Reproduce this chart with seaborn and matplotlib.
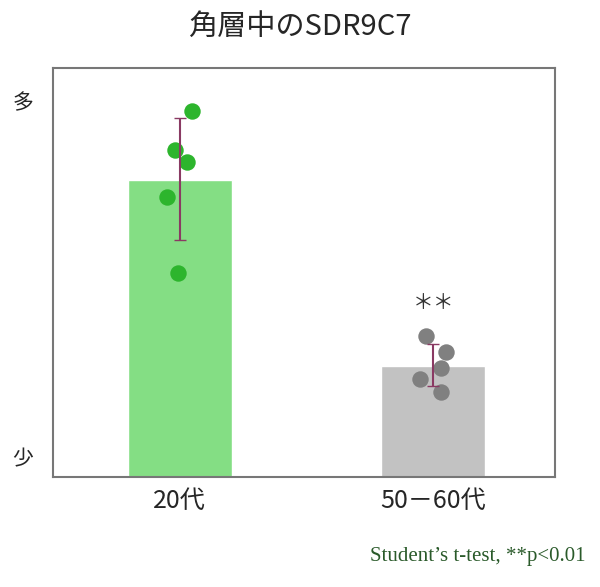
import matplotlib
matplotlib.use("Agg")
import matplotlib.pyplot as plt
import seaborn as sns
import pandas as pd
import numpy as np

sns.set_theme(style="white")
plt.rcParams['font.family'] = ['Noto Sans CJK JP', 'DejaVu Sans']

categories = ["20代", "50－60代"]
bar_means = [72.6, 27.1]
err_low = [58.0, 22.3]
err_high = [87.8, 32.5]
pts_young = [89.5, 80.0, 77.0, 68.5, 50.0]
jit_young = [0.047, -0.020, 0.028, -0.051, -0.008]
pts_old = [34.5, 30.6, 24.0, 26.7, 20.8]
jit_old = [-0.028, 0.051, -0.051, 0.032, 0.032]

bar_colors = ["#84de84", "#c2c2c2"]
pt_colors = ["#2db52d", "#808080"]

fig = plt.figure(figsize=(6.0, 5.87), dpi=100)
ax = fig.add_axes([0.088, 0.187, 0.837, 0.697])

df = pd.DataFrame({"cat": categories, "v": bar_means})
sns.barplot(data=df, x="cat", y="v", hue="cat", palette=bar_colors,
            width=0.41, ax=ax, legend=False, saturation=1)

for i, (pts, jit) in enumerate([(pts_young, jit_young), (pts_old, jit_old)]):
    ax.scatter(np.array(jit) + i, pts, s=140, color=pt_colors[i], zorder=3, linewidths=0)
    ax.errorbar(i, bar_means[i], yerr=[[bar_means[i] - err_low[i]], [err_high[i] - bar_means[i]]],
                fmt="none", ecolor="#8a3a63", capsize=4, elinewidth=1.5, zorder=4)

ax.text(1, 40, "＊＊", ha="center", va="bottom", fontsize=15, color="#333333")

ax.set_xlim(-0.5, 1.48)
ax.set_ylim(0, 100)
ax.set_yticks([92, 5])
ax.set_yticklabels(["多", "少"], fontsize=15)
ax.tick_params(axis="y", length=0, pad=14)
ax.tick_params(axis="x", length=0, pad=8, labelsize=18)
ax.set_xlabel("")
ax.set_ylabel("")
for s in ax.spines.values():
    s.set_color("#777777")
    s.set_linewidth(1.5)

fig.text(0.5, 0.955, "角層中のSDR9C7", ha="center", va="center", fontsize=21)
fig.text(0.975, 0.052, "Student’s t-test, **p<0.01", ha="right", va="center",
         fontsize=15, color="#2a5a2a", family=["Liberation Serif", "Noto Sans CJK JP"])

fig.savefig("out.png", dpi=100)
